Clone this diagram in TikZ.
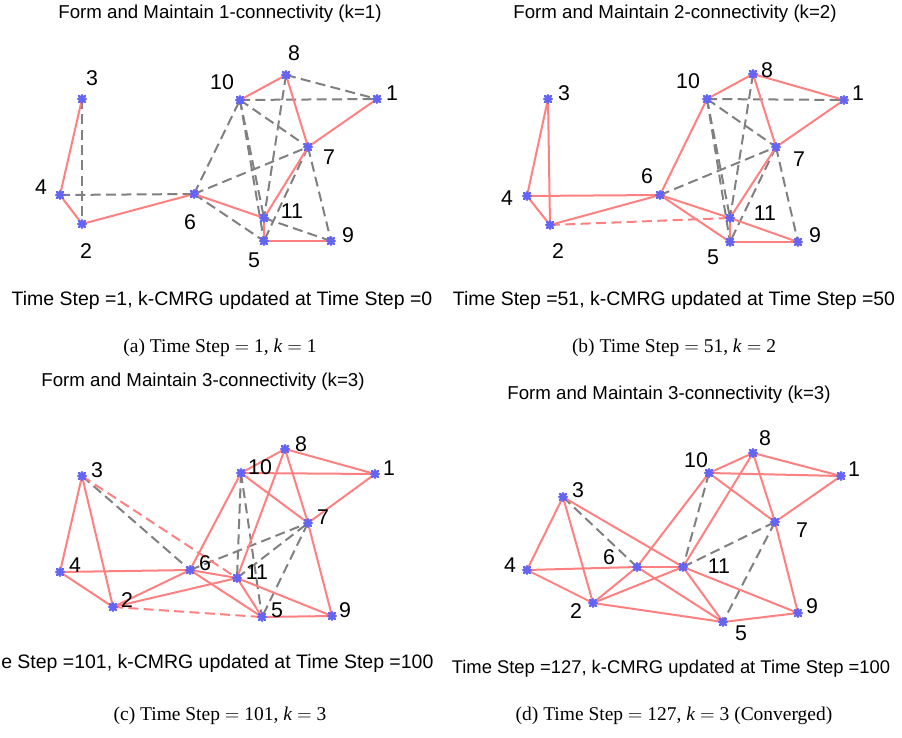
\documentclass[tikz,border=0pt]{standalone}
\usepackage{fontspec}
\setmainfont{Liberation Serif}
\newfontfamily\plotfont{Liberation Sans}
\definecolor{linkred}{RGB}{255,128,128}
\definecolor{candgray}{RGB}{128,128,128}
\definecolor{markblue}{RGB}{100,100,245}
\tikzset{
  link/.style={draw=linkred, line width=1.5pt},
  pend/.style={draw=linkred, line width=1.5pt, dash pattern=on 7.5pt off 4pt},
  cand/.style={draw=candgray, line width=1.5pt, dash pattern=on 7.5pt off 4pt},
  vtx/.style={inner sep=0pt, minimum size=0pt, outer sep=0pt},
  num/.style={font=\plotfont\fontsize{16}{16}\selectfont, inner sep=0pt},
  ttl/.style={font=\plotfont\fontsize{14}{16}\selectfont, inner sep=0pt},
  sub/.style={font=\plotfont\fontsize{14.6}{16}\selectfont, inner sep=0pt},
  subcap/.style={font=\fontsize{14.6}{16}\selectfont, inner sep=0pt},
  pics/robot/.style={code={
    \draw[markblue, line width=1.7pt, line cap=round]
      (-4,0)--(4,0) (0,-4)--(0,4) (-3,-3)--(3,3) (-3,3)--(3,-3);}}
}
\newcommand{\eqsign}{\ $=$\ }
\begin{document}
\begin{tikzpicture}[x=0.75pt,y=-0.75pt]
\useasboundingbox (0,0) rectangle (902,738);

% ---------- (a) k = 1 ----------
\node[ttl] (ta) at (220,14) {Form and Maintain 1-connectivity (k=1)};
\foreach \n/\x/\y in {1/377/99,2/82/224,3/82/99,4/60/195,5/264/241,6/194/194,
    7/308/147,8/286/75,9/331/241,10/240/100,11/264/218}
  \node[vtx] (a\n) at (\x,\y) {};
\foreach \u/\v in {3/2,4/6,6/10,6/7,6/5,10/1,8/1,10/7,10/11,10/5,8/11,7/5,7/9,11/9}
  \draw[cand] (a\u) -- (a\v);
\foreach \u/\v in {3/4,4/2,2/6,6/11,11/7,7/1,7/8,8/10,11/5,5/9}
  \draw[link] (a\u) -- (a\v);
\foreach \n in {1,...,11} \pic at (a\n) {robot};
\foreach \n/\x/\y in {1/392/93,2/86/251,3/92/78,4/41/187,5/254/260,6/190/222,
    7/329/157,8/294/53,9/348/235,10/222/82,11/292/211}
  \node[num] (la\n) at (\x,\y) {\n};
\node[sub] (sa) at (222,300) {Time Step =1, k-CMRG updated at Time Step =0};
\node[subcap] (ca) at (220,348) {(a) Time Step\eqsign 1, \textit{k}\eqsign 1};

% ---------- (b) k = 2 ----------
\node[ttl] (tb) at (675,14) {Form and Maintain 2-connectivity (k=2)};
\foreach \n/\x/\y in {1/844/100,2/550/225,3/548/99,4/527/196,5/730/242,6/660/195,
    7/776/147,8/753/74,9/798/242,10/707/99,11/730/218}
  \node[vtx] (b\n) at (\x,\y) {};
\foreach \u/\v in {10/1,10/7,10/11,10/5,8/11,6/7,7/5,7/9}
  \draw[cand] (b\u) -- (b\v);
\draw[pend] (b2) -- (b11);
\foreach \u/\v in {3/4,3/2,4/2,4/6,2/6,6/10,10/8,8/1,8/7,7/1,7/11,6/11,6/5,11/5,11/9,5/9}
  \draw[link] (b\u) -- (b\v);
\foreach \n in {1,...,11} \pic at (b\n) {robot};
\foreach \n/\x/\y in {1/858/93,2/558/251,3/564/93,4/507/198,5/713/257,6/647/176,
    7/799/159,8/767/70,9/815/235,10/688/81,11/765/213}
  \node[num] (lb\n) at (\x,\y) {\n};
\node[sub] (sb) at (674,300) {Time Step =51, k-CMRG updated at Time Step =50};
\node[subcap] (cb) at (674,348) {(b) Time Step\eqsign 51, \textit{k}\eqsign 2};

% ---------- (c) k = 3 ----------
\node[ttl] (tc) at (203,382) {Form and Maintain 3-connectivity (k=3)};
\foreach \n/\x/\y in {1/375/474,2/113/607,3/82/476,4/60/572,5/262/617,6/190/570,
    7/308/523,8/285/449,9/332/616,10/241/473,11/237/578}
  \node[vtx] (c\n) at (\x,\y) {};
\foreach \u/\v in {3/6,6/7,11/7,7/5,10/11,10/5}
  \draw[cand] (c\u) -- (c\v);
\foreach \u/\v in {3/11,2/5}
  \draw[pend] (c\u) -- (c\v);
\foreach \u/\v in {3/4,3/2,4/2,4/6,6/11,2/6,2/11,6/10,6/5,11/5,11/9,11/8,10/8,10/1,
    8/1,10/7,8/7,7/1,7/9,5/9}
  \draw[link] (c\u) -- (c\v);
\foreach \n in {1,...,11} \pic at (c\n) {robot};
\foreach \n/\x/\y in {1/389/468,2/127/600,3/97/470,4/75/565,5/277/610,6/205/563,
    7/323/517,8/301/444,9/345/610,10/260/467,11/257/572}
  \node[num] (lc\n) at (\x,\y) {\n};
\node[sub, anchor=west] (sc) at (1,663) {e Step =101, k-CMRG updated at Time Step =100};
\node[subcap] (cc) at (220,716) {(c) Time Step\eqsign 101, \textit{k}\eqsign 3};

% ---------- (d) k = 3, converged ----------
\node[ttl] (td) at (669,395) {Form and Maintain 3-connectivity (k=3)};
\foreach \n/\x/\y in {1/841/476,2/593/603,3/563/497,4/527/570,5/723/622,6/637/567,
    7/775/522,8/753/453,9/798/613,10/709/473,11/683/567}
  \node[vtx] (d\n) at (\x,\y) {};
\foreach \u/\v in {3/6,10/11,11/7,7/5}
  \draw[cand] (d\u) -- (d\v);
\foreach \u/\v in {3/4,3/2,4/2,4/6,6/11,3/11,2/6,2/11,2/5,6/10,6/5,11/8,11/5,11/9,
    10/8,10/1,8/1,10/7,8/7,7/1,7/9,5/9}
  \draw[link] (d\u) -- (d\v);
\foreach \n in {1,...,11} \pic at (d\n) {robot};
\foreach \n/\x/\y in {1/854/469,2/576/611,3/578/490,4/510/565,5/741/633,6/609/557,
    7/802/530,8/765/438,9/812/606,10/696/460,11/719/566}
  \node[num] (ld\n) at (\x,\y) {\n};
\node[sub, font=\plotfont\fontsize{13.8}{16}\selectfont] (sd) at (671,669)
  {Time Step =127, k-CMRG updated at Time Step =100};
\node[subcap] (cd) at (674,716) {(d) Time Step\eqsign 127, \textit{k}\eqsign 3 (Converged)};
\end{tikzpicture}
\end{document}
